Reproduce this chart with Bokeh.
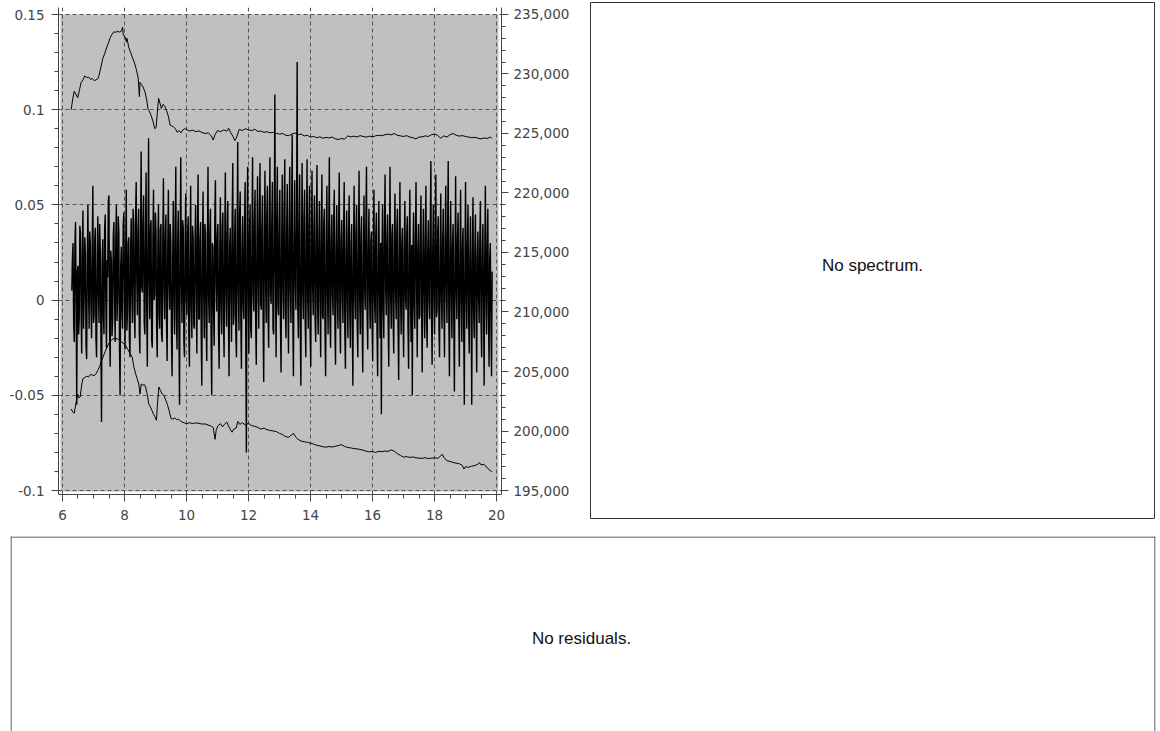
import numpy as np
from bokeh.plotting import figure
from bokeh.models import (Range1d, LinearAxis, FixedTicker, NumeralTickFormatter,
                          BoxAnnotation, Label, Span)
from bokeh.layouts import column, row
from bokeh.embed import file_html
from bokeh.resources import INLINE

# ---------------- data ----------------
# noisy signal (left axis), sampled evenly from k = 6.30 to 19.86
signal_start = 6.30
signal_end = 19.86
signal = [
    # 6.30 - 7.28
    0.005, 0.022, 0.030, -0.012, -0.022, 0.028, 0.041, 0.001, -0.055, 0.015, 0.018, -0.018, -0.010,
    0.039, 0.035, -0.006, -0.028, 0.025, 0.047, -0.015, 0.002, 0.033, 0.024, -0.024, -0.031, 0.019,
    0.050, 0.008, -0.015, 0.036, 0.029, -0.004, -0.020, 0.027, 0.060, -0.012, -0.008, 0.031, 0.038,
    -0.020, -0.030, 0.016, 0.044, 0.004, -0.012, 0.040, 0.026, -0.018, -0.064, 0.020,
    # 7.30 - 8.28
    0.032, -0.008, -0.018, 0.037, 0.045, -0.002, -0.025, 0.021, 0.012, 0.052, 0.055, -0.014, -0.035,
    0.026, 0.020, -0.019, -0.010, 0.034, 0.041, 0.003, -0.022, 0.030, 0.050, -0.011, 0.000, 0.044,
    0.036, -0.024, -0.050, 0.018, 0.028, -0.006, -0.015, 0.039, 0.046, 0.006, -0.026, 0.024, 0.058,
    -0.016, -0.005, 0.030, 0.033, -0.020, -0.030, 0.027, 0.043, 0.002, -0.012, 0.048,
    # 8.30 - 9.28
    0.039, -0.006, -0.020, 0.044, 0.062, 0.010, -0.008, 0.035, 0.048, -0.017, -0.028, 0.029, 0.078,
    0.007, 0.004, 0.041, 0.055, -0.012, -0.018, 0.033, 0.067, -0.004, -0.035, 0.026, 0.085, 0.012,
    -0.010, 0.038, 0.042, -0.021, -0.025, 0.030, 0.058, 0.000, 0.003, 0.046, 0.036, -0.014, -0.030,
    0.028, 0.050, -0.008, -0.015, 0.037, 0.040, -0.018, -0.022, 0.031, 0.064, 0.005,
    # 9.30 - 10.28
    -0.010, 0.034, 0.045, -0.012, -0.032, 0.027, 0.058, 0.009, -0.005, 0.040, 0.030, -0.020, -0.040,
    0.022, 0.052, 0.003, -0.018, 0.036, 0.070, -0.009, -0.026, 0.031, 0.047, -0.016, -0.055, 0.024,
    0.075, 0.011, -0.012, 0.042, 0.038, -0.022, -0.030, 0.028, 0.056, 0.001, -0.008, 0.035, 0.044,
    -0.019, -0.035, 0.025, 0.060, -0.003, -0.020, 0.039, 0.033, -0.013, -0.015, 0.029,
    # 10.30 - 11.28
    0.050, 0.004, -0.028, 0.037, 0.066, -0.010, -0.010, 0.032, 0.041, -0.018, -0.045, 0.023, 0.057,
    0.006, -0.020, 0.040, 0.035, -0.014, -0.032, 0.027, 0.070, 0.002, -0.012, 0.036, 0.048, -0.021,
    -0.050, 0.030, 0.028, -0.006, -0.024, 0.043, 0.063, 0.008, -0.006, 0.034, 0.040, -0.017, -0.036,
    0.026, 0.054, -0.004, -0.018, 0.038, 0.046, -0.011, -0.030, 0.029, 0.067, 0.003,
    # 11.30 - 12.28
    -0.014, 0.035, 0.052, -0.009, -0.040, 0.028, 0.038, 0.004, -0.022, 0.041, 0.072, -0.013, -0.008,
    0.033, 0.048, -0.019, -0.030, 0.030, 0.083, 0.006, -0.016, 0.044, 0.057, -0.010, -0.036, 0.027,
    0.044, -0.003, -0.010, 0.039, 0.062, -0.020, -0.080, 0.025, 0.070, 0.009, -0.028, 0.036, 0.050,
    -0.015, -0.020, 0.031, 0.075, 0.002, -0.006, 0.042, 0.058, -0.012, -0.034, 0.029,
    # 12.30 - 13.28
    0.065, 0.010, -0.015, 0.043, 0.072, -0.002, -0.005, 0.038, 0.055, -0.012, -0.043, 0.030, 0.068,
    0.012, -0.012, 0.046, 0.060, -0.008, -0.025, 0.035, 0.075, 0.004, -0.002, 0.040, 0.062, -0.015,
    -0.018, 0.033, 0.108, 0.015, -0.030, 0.041, 0.070, -0.004, -0.008, 0.037, 0.058, -0.011, -0.038,
    0.029, 0.066, 0.007, -0.010, 0.044, 0.074, -0.006, -0.020, 0.034, 0.061, 0.002,
    # 13.30 - 14.28
    -0.028, 0.032, 0.070, 0.005, -0.012, 0.045, 0.087, -0.009, -0.040, 0.028, 0.063, 0.010, -0.005,
    0.039, 0.125, -0.003, -0.020, 0.036, 0.066, -0.014, -0.045, 0.026, 0.072, 0.006, -0.010, 0.043,
    0.058, -0.012, -0.030, 0.031, 0.074, 0.002, -0.015, 0.040, 0.060, -0.018, -0.035, 0.029, 0.068,
    0.008, -0.008, 0.037, 0.055, -0.010, -0.022, 0.034, 0.071, -0.002, -0.018, 0.030,
    # 14.30 - 15.28
    0.052, 0.001, -0.030, 0.034, 0.066, -0.008, -0.010, 0.040, 0.048, -0.016, -0.040, 0.025, 0.060,
    0.006, -0.018, 0.037, 0.075, -0.011, -0.025, 0.030, 0.045, 0.003, -0.008, 0.042, 0.058, -0.014,
    -0.034, 0.027, 0.050, 0.000, -0.015, 0.038, 0.067, -0.009, -0.028, 0.031, 0.042, 0.004, -0.012,
    0.036, 0.062, -0.017, -0.036, 0.024, 0.047, 0.002, -0.020, 0.033, 0.055, -0.006,
    # 15.30 - 16.28
    -0.025, 0.029, 0.040, -0.010, -0.045, 0.023, 0.060, 0.005, -0.010, 0.035, 0.050, -0.013, -0.030,
    0.028, 0.068, 0.001, -0.018, 0.033, 0.044, -0.015, -0.038, 0.022, 0.055, 0.007, -0.005, 0.039,
    0.070, -0.008, -0.026, 0.027, 0.048, 0.003, -0.015, 0.031, 0.036, -0.012, -0.032, 0.025, 0.058,
    0.000, -0.012, 0.034, 0.046, -0.016, -0.040, 0.021, 0.052, 0.004, -0.020, 0.030,
    # 16.30 - 17.28
    -0.060, 0.024, 0.050, -0.004, -0.020, 0.036, 0.066, 0.006, -0.008, 0.031, 0.045, -0.012, -0.035,
    0.026, 0.070, 0.002, -0.015, 0.034, 0.040, -0.010, -0.028, 0.028, 0.056, 0.005, -0.010, 0.037,
    0.048, -0.014, -0.042, 0.022, 0.062, 0.003, -0.018, 0.030, 0.038, -0.009, -0.030, 0.027, 0.052,
    0.001, -0.005, 0.035, 0.044, -0.013, -0.036, 0.024, 0.058, 0.004, -0.022, 0.029,
    # 17.30 - 18.28
    -0.050, 0.021, 0.046, -0.002, -0.015, 0.033, 0.062, 0.005, -0.030, 0.026, 0.040, -0.010, -0.008,
    0.035, 0.055, -0.006, -0.038, 0.023, 0.048, 0.004, -0.020, 0.031, 0.060, -0.011, -0.025, 0.028,
    0.042, 0.000, -0.010, 0.037, 0.073, -0.007, -0.034, 0.025, 0.050, 0.003, -0.018, 0.032, 0.066,
    -0.009, -0.005, 0.036, 0.044, -0.014, -0.030, 0.024, 0.056, 0.002, -0.015, 0.030,
    # 18.30 - 19.28
    0.048, -0.004, -0.030, 0.027, 0.060, 0.006, -0.012, 0.034, 0.073, -0.010, -0.040, 0.022, 0.052,
    0.003, -0.020, 0.030, 0.040, -0.012, -0.048, 0.020, 0.065, 0.005, -0.010, 0.033, 0.046, -0.008,
    -0.035, 0.024, 0.058, 0.001, -0.022, 0.029, 0.038, -0.014, -0.055, 0.019, 0.062, 0.004, -0.015,
    0.031, 0.050, -0.009, -0.028, 0.023, 0.044, 0.000, -0.055, 0.021, 0.054, -0.004,
    # 19.30 - 19.86
    -0.020, 0.025, 0.045, -0.006, -0.038, 0.022, 0.036, 0.002, -0.012, 0.030, 0.052, -0.010, -0.030,
    0.024, 0.040, 0.000, -0.045, 0.020, 0.060, 0.004, -0.018, 0.028, 0.048, -0.008, -0.035, 0.021,
    0.030, -0.012, -0.040, 0.015,
]

# upper smooth curve (right axis, counts)
upper_k = [6.28, 6.33, 6.38, 6.43, 6.49, 6.55, 6.60, 6.66, 6.72, 6.78, 6.84, 6.90, 6.96, 7.02, 7.08,
           7.14, 7.18, 7.24, 7.30, 7.36, 7.42, 7.48, 7.54, 7.60, 7.66, 7.72, 7.78, 7.84, 7.90, 7.94,
           7.96, 8.02, 8.06, 8.08, 8.14, 8.20, 8.26, 8.32, 8.38, 8.44, 8.48, 8.50, 8.55, 8.60, 8.66,
           8.72, 8.76, 8.80, 8.86, 8.92, 8.98, 9.02, 9.06, 9.10, 9.15, 9.19, 9.24, 9.30, 9.36, 9.42,
           9.47, 9.52, 9.58, 9.64, 9.70, 9.76, 9.82, 9.88, 9.94, 10.0, 10.1, 10.2, 10.3, 10.4, 10.5,
           10.6, 10.7, 10.8, 10.86, 10.92, 11.0, 11.1, 11.2, 11.3, 11.36, 11.42, 11.5, 11.56, 11.62,
           11.7, 11.8, 11.9, 12.0, 12.1, 12.2, 12.3, 12.4, 12.5, 12.6, 12.7, 12.8, 12.9, 13.0, 13.1,
           13.2, 13.3, 13.4, 13.5, 13.6, 13.7, 13.8, 13.9, 14.0, 14.1, 14.2, 14.3, 14.4, 14.5, 14.6,
           14.7, 14.8, 14.9, 15.0, 15.1, 15.2, 15.3, 15.4, 15.5, 15.6, 15.7, 15.8, 15.9, 16.0, 16.1,
           16.2, 16.3, 16.4, 16.5, 16.6, 16.7, 16.8, 16.9, 17.0, 17.1, 17.2, 17.3, 17.4, 17.5, 17.6,
           17.7, 17.8, 17.9, 18.0, 18.1, 18.2, 18.3, 18.4, 18.5, 18.6, 18.7, 18.8, 18.9, 19.0, 19.1,
           19.2, 19.3, 19.4, 19.5, 19.6, 19.7, 19.8, 19.85]
upper_counts = [227000, 227900, 228550, 228300, 228000, 228700, 229300, 229500, 229850, 229700,
                229750, 229550, 229620, 229450, 229500, 229600, 229900, 230600, 231300, 231700,
                232200, 232600, 233050, 233350, 233550, 233500, 233600, 233520, 233600, 233950,
                233300, 233100, 232700, 233000, 232200, 231800, 231350, 230950, 230400, 229700,
                228100, 229300, 229100, 228900, 228500, 227800, 227000, 226900, 226500, 226000,
                225400, 225500, 226800, 227950, 227500, 227100, 227450, 227300, 226900, 226400,
                225700, 225650, 225550, 225400, 225100, 225250, 225050, 225300, 225400, 225350,
                225200, 225280, 225150, 225220, 225080, 225000, 225050, 224800, 224450, 224900,
                225250, 225150, 225300, 225200, 225450, 225100, 224750, 224400, 224700, 225350,
                225250, 225400, 225300, 225250, 225350, 225180, 225200, 225100, 225150, 225050,
                225100, 225000, 224950, 225000, 224850, 224820, 224950, 225050, 224900, 224950,
                224800, 224850, 224700, 224750, 224650, 224720, 224600, 224680, 224620, 224700,
                224550, 224500, 224580, 224520, 224800, 224720, 224780, 224700, 224820, 224750,
                224700, 224780, 224720, 224800, 224850, 224820, 224900, 224950, 224880, 225000,
                224850, 224800, 224750, 224820, 224700, 224650, 224550, 224700, 224720, 224800,
                224750, 224900, 224950, 224850, 224600, 224800, 224700, 224900, 225000, 224850,
                224780, 224820, 224750, 224700, 224650, 224680, 224600, 224550, 224620, 224580,
                224700, 224600]

# lower smooth curve (right axis, counts)
lower_k = [6.28, 6.33, 6.38, 6.43, 6.49, 6.53, 6.57, 6.62, 6.66, 6.72, 6.78, 6.84, 6.90, 6.96, 7.02,
           7.08, 7.14, 7.20, 7.26, 7.32, 7.38, 7.44, 7.50, 7.60, 7.70, 7.80, 7.90, 8.00, 8.10, 8.18,
           8.25, 8.30, 8.36, 8.42, 8.46, 8.50, 8.54, 8.58, 8.64, 8.68, 8.74, 8.78, 8.84, 8.89, 8.94,
           8.98, 9.03, 9.07, 9.11, 9.16, 9.22, 9.27, 9.33, 9.38, 9.44, 9.50, 9.56, 9.62, 9.68, 9.74,
           9.80, 9.86, 9.92, 10.0, 10.1, 10.2, 10.3, 10.4, 10.5, 10.6, 10.7, 10.8, 10.86, 10.92,
           10.96, 11.02, 11.1, 11.16, 11.22, 11.3, 11.36, 11.42, 11.47, 11.52, 11.6, 11.66, 11.72,
           11.8, 11.9, 12.0, 12.1, 12.2, 12.3, 12.4, 12.5, 12.6, 12.7, 12.8, 12.9, 13.0, 13.1, 13.2,
           13.3, 13.4, 13.46, 13.52, 13.6, 13.7, 13.8, 13.9, 14.0, 14.1, 14.2, 14.3, 14.4, 14.5,
           14.6, 14.7, 14.8, 14.9, 15.0, 15.1, 15.2, 15.3, 15.4, 15.5, 15.6, 15.7, 15.8, 15.9, 16.0,
           16.1, 16.2, 16.3, 16.4, 16.5, 16.6, 16.7, 16.8, 16.9, 17.0, 17.1, 17.2, 17.3, 17.4, 17.5,
           17.6, 17.7, 17.8, 17.9, 18.0, 18.1, 18.2, 18.25, 18.3, 18.4, 18.5, 18.6, 18.7, 18.8, 18.9,
           18.95, 19.0, 19.1, 19.2, 19.3, 19.4, 19.45, 19.5, 19.6, 19.65, 19.7, 19.75, 19.8, 19.85]
lower_counts = [201850, 201600, 201500, 202300, 203100, 202800, 202850, 203900, 204400, 204500,
                204600, 204550, 204750, 204700, 204650, 204800, 205100, 205450, 205900, 206300,
                206700, 207050, 207400, 207700, 207800, 207700, 207500, 207300, 206900, 206500,
                206200, 205400, 204800, 204300, 203950, 203100, 203950, 203850, 203900, 203700,
                203000, 202300, 202000, 201700, 201400, 201200, 200900, 202500, 203700, 203400,
                203100, 203000, 202600, 202250, 201700, 201050, 201000, 201100, 200950, 201000,
                200850, 200750, 200700, 200600, 200700, 200620, 200680, 200650, 200580, 200600,
                200500, 200400, 200300, 199300, 200100, 200450, 200620, 200350, 200550, 200750,
                200400, 200100, 199900, 200150, 200250, 200800, 200550, 200700, 200500, 200650,
                200450, 200400, 200300, 200150, 200250, 200100, 200050, 200000, 199950, 199800,
                199700, 199520, 199480, 199700, 199780, 199500, 199300, 199150, 199100, 199050,
                198980, 198900, 198800, 198750, 198680, 198640, 198700, 198650, 198720, 198780,
                198850, 198700, 198620, 198580, 198520, 198500, 198450, 198380, 198300, 198250,
                198280, 198200, 198300, 198260, 198320, 198280, 198420, 198300, 198100, 197950,
                197800, 197850, 197780, 197820, 197750, 197720, 197700, 197760, 197680, 197720,
                197750, 197700, 197900, 198050, 197800, 197500, 197450, 197350, 197300, 197250,
                197100, 196800, 197000, 196950, 197050, 197100, 197200, 197350, 197150, 197200,
                197050, 196900, 196800, 196650, 196600]

x_ticks = [6, 8, 10, 12, 14, 16, 18, 20]
left_ticks = [-0.1, -0.05, 0, 0.05, 0.1, 0.15]
left_labels = ["-0.1", "-0.05", "0", "0.05", "0.1", "0.15"]
right_ticks = [195000, 200000, 205000, 210000, 215000, 220000, 225000, 230000, 235000]

# ---------------- styling helpers ----------------
TICK_FONT = "DejaVu Sans"
TICK_SIZE = "13.5px"
TICK_COLOR = "#444444"
AXIS_COLOR = "#444444"
GRID_COLOR = "#555555"


def style_axis(ax, standoff):
    ax.axis_line_color = AXIS_COLOR
    ax.major_tick_line_color = AXIS_COLOR
    ax.minor_tick_line_color = AXIS_COLOR
    ax.major_tick_in = 0
    ax.major_tick_out = 7
    ax.minor_tick_in = 0
    ax.minor_tick_out = 4
    ax.major_label_text_font = TICK_FONT
    ax.major_label_text_font_size = TICK_SIZE
    ax.major_label_text_color = TICK_COLOR
    ax.major_label_standoff = standoff


# ---------------- main plot ----------------
p1 = figure(width=589, height=536, output_backend="svg", toolbar_location=None,
            x_range=Range1d(5.871, 20.161), y_range=Range1d(-0.1021, 0.15368),
            min_border_left=58, min_border_right=88, min_border_top=7, min_border_bottom=42)
p1.frame_align = False
p1.outline_line_color = None
p1.background_fill_color = "white"
p1.border_fill_color = "white"

xax = p1.xaxis[0]
xax.ticker = FixedTicker(ticks=x_ticks, minor_ticks=list(np.arange(6.0, 20.01, 0.5)))
style_axis(xax, 8)

yax = p1.yaxis[0]
yax.ticker = FixedTicker(ticks=left_ticks,
                         minor_ticks=[round(v, 3) for v in np.arange(-0.1, 0.1501, 0.01)])
yax.major_label_overrides = {t: l for t, l in zip(left_ticks, left_labels)}
style_axis(yax, 7)

p1.extra_y_ranges = {"counts": Range1d(194664, 235588)}
rax = LinearAxis(y_range_name="counts",
                 ticker=FixedTicker(ticks=right_ticks, minor_ticks=list(range(195000, 235001, 1000))),
                 formatter=NumeralTickFormatter(format="0,0"))
style_axis(rax, 5)
p1.add_layout(rax, "right")

for g in (p1.xgrid[0], p1.ygrid[0]):
    g.grid_line_color = GRID_COLOR
    g.grid_line_dash = "4 3"
    g.grid_line_width = 1

gray = BoxAnnotation(left=5.935, right=20.065, bottom=-0.1005, top=0.15,
                     fill_color="#c0c0c0", fill_alpha=1.0, line_color=None, level="image")
p1.add_layout(gray)

signal_k = np.linspace(signal_start, signal_end, len(signal))
p1.line(signal_k, signal, line_color="black", line_width=1.4)
p1.line(upper_k, upper_counts, y_range_name="counts", line_color="black", line_width=1)
p1.line(lower_k, lower_counts, y_range_name="counts", line_color="black", line_width=1)

# ---------------- spectrum placeholder ----------------
p2 = figure(width=567, height=536, output_backend="svg", toolbar_location=None,
            x_range=Range1d(0, 1), y_range=Range1d(0, 1), x_axis_type=None, y_axis_type=None,
            min_border_left=1, min_border_right=2, min_border_top=2, min_border_bottom=18)
p2.frame_align = False
p2.grid.visible = False
p2.outline_line_color = "#333333"
p2.outline_line_width = 1
p2.add_layout(Label(x=0.5, y=0.49, text="No spectrum.", text_align="center",
                    text_baseline="middle", text_font="Liberation Sans",
                    text_font_size="17px", text_color="#111111"))

# ---------------- residuals placeholder ----------------
p3 = figure(width=1156, height=195, output_backend="svg", toolbar_location=None,
            x_range=Range1d(0, 1145), y_range=Range1d(0, 195), x_axis_type=None, y_axis_type=None,
            min_border_left=10, min_border_right=1, min_border_top=0, min_border_bottom=0)
p3.frame_align = False
p3.grid.visible = False
p3.outline_line_color = None
for loc, dim in ((0.5, "height"), (1144.5, "height"), (194.5, "width")):
    p3.add_layout(Span(location=loc, dimension=dim, line_color="#333333", line_width=1))
p3.add_layout(Label(x=571, y=93, text="No residuals.", text_align="center",
                    text_baseline="middle", text_font="Liberation Sans",
                    text_font_size="17px", text_color="#111111"))

layout = column(row(p1, p2), p3)
open("out.html", "w").write(file_html(layout, INLINE))
